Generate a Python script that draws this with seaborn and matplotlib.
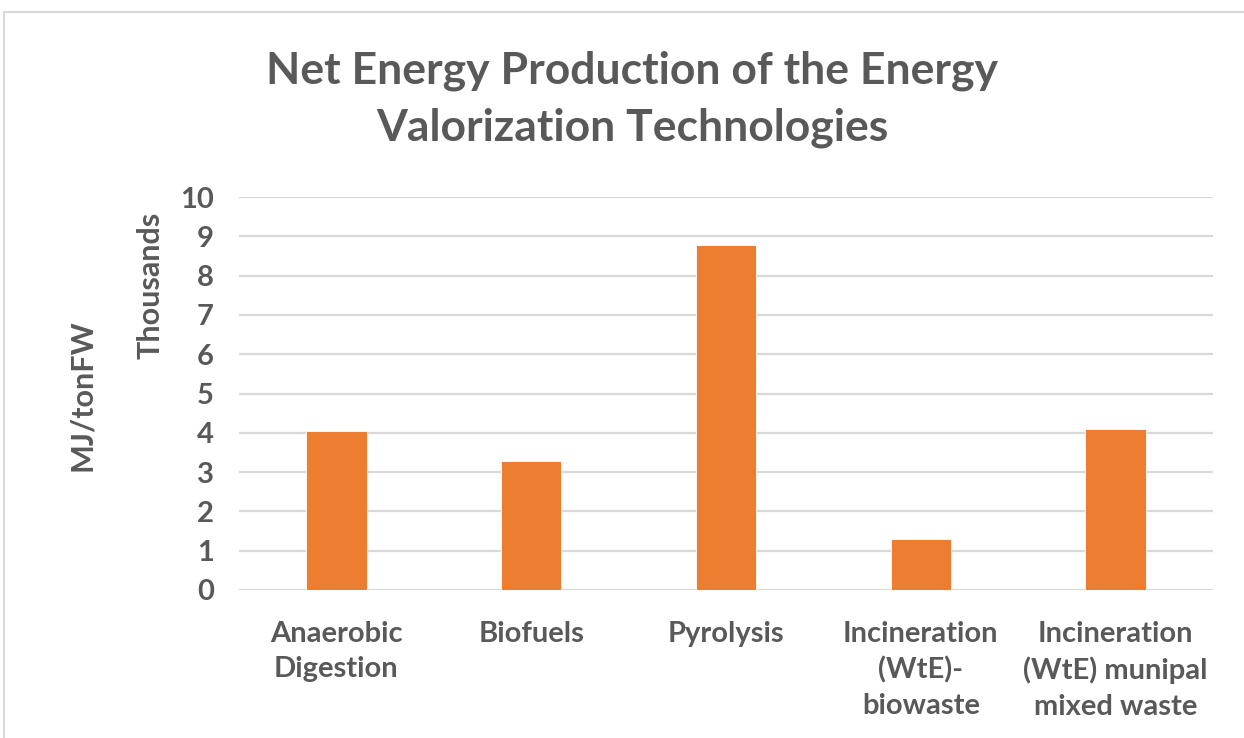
import matplotlib
matplotlib.use("Agg")
import matplotlib.pyplot as plt
import seaborn as sns
import pandas as pd
from matplotlib.patches import Rectangle

# Net energy production per technology, MJ per ton of food waste
technologies = [
    "Anaerobic\nDigestion",
    "Biofuels",
    "Pyrolysis",
    "Incineration\n(WtE)-\nbiowaste",
    "Incineration\n(WtE) munipal\nmixed waste",
]
net_energy_mj = [4040, 3290, 8780, 1310, 4100]
y_ticks = [0, 1, 2, 3, 4, 5, 6, 7, 8, 9, 10]

df = pd.DataFrame({
    "technology": technologies,
    "thousands": [v / 1000 for v in net_energy_mj],
})

sns.set_theme(style="white")
plt.rcParams["font.family"] = ["Lato", "DejaVu Sans"]

GREY = "#595959"
ORANGE = "#ED7D31"
TICK_SIZE = 21
LABEL_SIZE = 22

fig = plt.figure(figsize=(12.44, 7.38), dpi=100)
ax = fig.add_axes([239 / 1244, 1 - 590 / 738, (1213 - 239) / 1244, (590 - 197) / 738])

sns.barplot(data=df, x="technology", y="thousands", color=ORANGE,
            width=0.31, saturation=1, ax=ax, edgecolor="white", linewidth=0.6)

ax.set_ylim(0, 10)
ax.set_yticks(y_ticks)
ax.set_yticklabels([str(t) for t in y_ticks])
ax.grid(axis="y", color="#D9D9D9", linewidth=1.6)
ax.set_axisbelow(True)
for s in ax.spines.values():
    s.set_visible(False)
ax.tick_params(axis="both", length=0, colors=GREY)
ax.tick_params(axis="y", pad=18)
ax.tick_params(axis="x", pad=22)
for lbl in ax.get_yticklabels():
    lbl.set_fontsize(TICK_SIZE)
    lbl.set_fontweight("bold")
    lbl.set_color(GREY)
for lbl in ax.get_xticklabels():
    lbl.set_fontsize(TICK_SIZE)
    lbl.set_fontweight("bold")
    lbl.set_color(GREY)
    lbl.set_linespacing(1.45)
ax.set_xlabel("")
ax.set_ylabel("")

# axis titles: display units and measure
fig.text(150 / 1244, 1 - 285 / 738, "Thousands", rotation=90, ha="center", va="center",
         fontsize=LABEL_SIZE, fontweight="bold", color=GREY)
fig.text(82 / 1244, 1 - 395 / 738, "MJ/tonFW", rotation=90, ha="center", va="center",
         fontsize=LABEL_SIZE, fontweight="bold", color=GREY)

fig.text(632 / 1244, 1 - 99 / 738,
         "Net Energy Production of the Energy\nValorization Technologies",
         ha="center", va="center", fontsize=32, fontweight="bold", color=GREY,
         linespacing=1.5)

# chart frame
fig.patches.append(Rectangle((4 / 1244, -0.1), 1.1, 1 - 12 / 738 + 0.1,
                             transform=fig.transFigure, fill=False,
                             edgecolor="#D9D9D9", linewidth=1.5))

fig.savefig("out.png", dpi=100, facecolor="white")
